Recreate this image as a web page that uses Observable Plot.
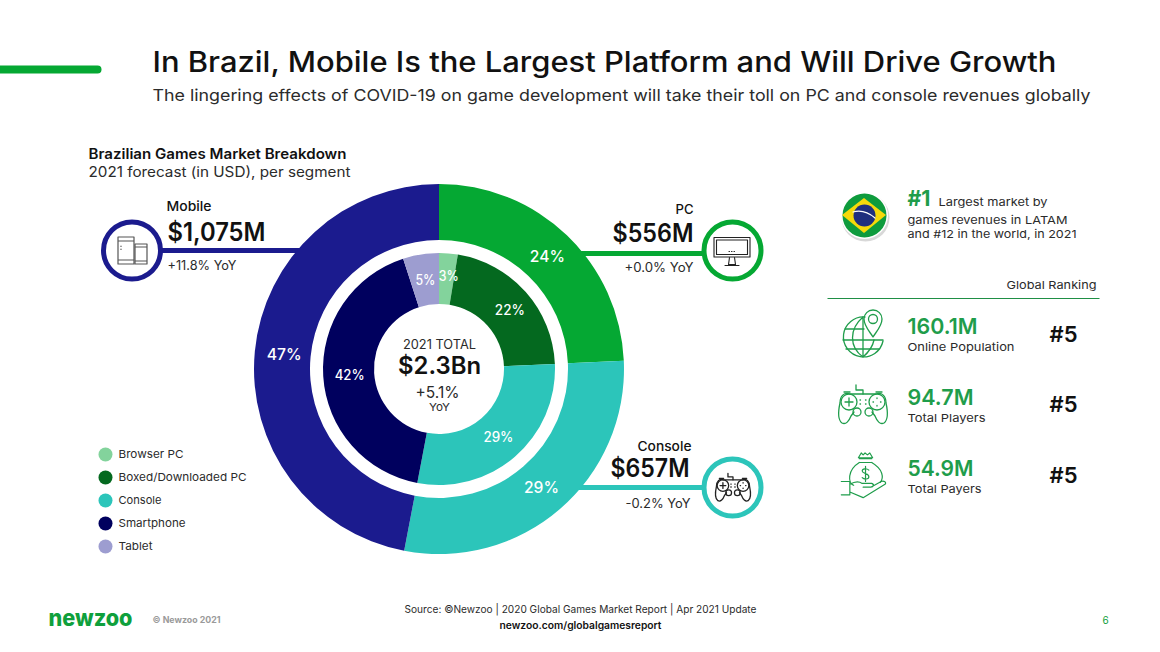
<!DOCTYPE html>
<html>
<head>
<meta charset="utf-8">
<script src="https://cdn.jsdelivr.net/npm/d3@7"></script>
<script src="https://cdn.jsdelivr.net/npm/@observablehq/plot@0.6"></script>
<style>
html,body{margin:0;padding:0;background:#fff}
svg{display:block}
</style>
</head>
<body>
<div id="chart"></div>
<script>
// ---------- data ----------
const outerSegments = ["PC", "Console", "Mobile"];
const outerRevenue = [556, 657, 1075];
const outerLabels = ["24%", "29%", "47%"];
const innerSegments = ["Browser PC", "Boxed/Downloaded PC", "Console", "Smartphone", "Tablet"];
const innerShares = [2.6, 21.7, 28.7, 42, 5];
const innerLabels = ["3%", "22%", "29%", "42%", "5%"];
const segmentDomain = ["PC", "Mobile", "Browser PC", "Boxed/Downloaded PC", "Console", "Smartphone", "Tablet"];
const segmentColors = ["#05a833", "#1b1b8e", "#83d39c", "#04691f", "#2cc5ba", "#00005e", "#9d9dd0"];
const rankingValues = ["160.1M", "94.7M", "54.9M"];
const rankingNames = ["Online Population", "Total Players", "Total Payers"];
const rankingRanks = ["#5", "#5", "#5"];
const calloutTitles = ["Mobile", "PC", "Console"];
const calloutValues = ["$1,075M", "$556M", "$657M"];
const calloutGrowth = ["+11.8% YoY", "+0.0% YoY", "-0.2% YoY"];

// ---------- layout ----------
const W = 1160, H = 652;
const FONT = "Inter, 'Open Sans', sans-serif";
const cx = 439, cy = 369;
const ringRadii = {inner: [65, 116], outer: [129, 185]};
const labelRadius = {inner: 90, outer: 156};
const labelWidth = {inner: 30, outer: 35};
const labelNudge = {"inner3%": [2, -3], "inner22%": [3, 1]};
const GREEN = "#1f9d4b", INK = "#111", BODY = "#2b2b2b";

const total = d3.sum(outerRevenue);
const rows = [
  ...outerSegments.map((segment, i) => ({ring: "outer", segment, share: outerRevenue[i] / total * 100, label: outerLabels[i]})),
  ...innerSegments.map((segment, i) => ({ring: "inner", segment, share: innerShares[i], label: innerLabels[i]}))
];

// running totals per ring give the label's mid angle
const running = {inner: 0, outer: 0};
const sliceLabels = rows.map(d => {
  const mid = running[d.ring] + d.share / 2;
  running[d.ring] += d.share;
  const a = mid / 100 * 2 * Math.PI;
  const r = labelRadius[d.ring];
  const [dx, dy] = labelNudge[d.ring + d.label] || [0, 0];
  return {
    label: d.label,
    x: cx + r * Math.sin(a) + dx,
    y: cy - r * Math.cos(a) + dy,
    w: d.label.length > 2 ? labelWidth[d.ring] : 20,
    size: d.ring === "outer" ? 15.5 : 14
  };
});

function donut() {
  return Plot.plot({
    width: W, height: H, margin: 0,
    style: {background: "transparent", overflow: "visible"},
    x: {domain: [0, 100], range: [0, 2 * Math.PI], axis: null},
    y: {domain: ["inner", "outer"], axis: null},
    color: {domain: segmentDomain, range: segmentColors},
    marks: [
      Plot.barX(rows, Plot.stackX({
        x: "share", y: "ring", fill: "segment",
        render(index, scales, values) {
          const g = d3.create("svg:g").attr("transform", `translate(${cx},${cy})`);
          const arc = d3.arc();
          for (const i of index) {
            const [innerRadius, outerRadius] = ringRadii[rows[i].ring];
            g.append("path")
              .attr("d", arc({innerRadius, outerRadius, startAngle: values.x1[i], endAngle: values.x2[i]}))
              .attr("fill", values.fill[i]);
          }
          return g.node();
        }
      }))
    ]
  });
}

// text helper: w fits the run to the width it has in the reference
function txt(str, x, y, size, weight, fill, anchor, w) {
  return Plot.text([str], {
    x: () => x, y: () => y, text: d => d,
    fontSize: size, fontWeight: weight, fill, textAnchor: anchor || "start",
    fontFamily: FONT,
    render(i, s, v, d, c, next) {
      const g = next(i, s, v, d, c);
      if (w) d3.select(g).selectAll("text").attr("textLength", w).attr("lengthAdjust", "spacingAndGlyphs");
      return g;
    }
  });
}

function seg(x1, y1, x2, y2, stroke, strokeWidth, cap) {
  return Plot.link([0], {x1: () => x1, y1: () => y1, x2: () => x2, y2: () => y2, stroke, strokeWidth, strokeLinecap: cap || "butt"});
}
function disc(x, y, r, fill, stroke, strokeWidth) {
  return Plot.dot([0], {x: () => x, y: () => y, r, fill, stroke: stroke || "none", strokeWidth: strokeWidth || 0});
}
function icon(x, y, stroke, sw, s, paths) {
  return () => {
    const g = d3.create("svg:g").attr("transform", `translate(${x},${y}) scale(${s})`)
      .attr("fill", "none").attr("stroke", stroke).attr("stroke-width", sw / s)
      .attr("stroke-linejoin", "round").attr("stroke-linecap", "round");
    paths.forEach(p => g.append("path").attr("d", p));
    return g.node();
  };
}

const padPaths = [
  "M-13-10H13C19-12 23-8 23-1C25 8 25 16 21 19C17 21 14 17 12 12L9 8M-9 8L-12 12C-14 17-17 21-21 19C-25 16-25 8-23-1C-23-8-19-12-13-10",
  "M-6-2a8 8 0 1 1-16 0a8 8 0 1 1 16 0M22-2a8 8 0 1 1-16 0a8 8 0 1 1 16 0",
  "M-2 8a4 4 0 1 1-8 0a4 4 0 1 1 8 0M10 8a4 4 0 1 1-8 0a4 4 0 1 1 8 0",
  "M-14-6V2M-18-2H-10",
  "M14-6v.5M14 1.5v.5M10-2h.5M17.5-2h.5",
  "M0-10V-14H-7V-19",
  "M-3-4h.5M2.5-4h.5M-3 0h.5M2.5 0h.5",
  "M-19-12h6M13-12h6"
];
const globePaths = [
  "M2-20A20 20 0 1 0 20 4",
  "M-18-8H1M-20 3H20M-17 12H16",
  "M0-20C-14-8-14 10 0 20C7 14 10 8 11 3M0-20V20",
  "M1-18a9 9 0 1 1 18 0C19-11 13-5 10 0C7-5 1-11 1-18Z",
  "M5.500-18a4.500 4.500 0 1 1 9 0a4.500 4.500 0 1 1-9 0"
];
const bagPaths = [
  "M-5-20L-8-15H7L4-20L1.500-18L-1-20L-3-18Z",
  "M-7-14H6M-7-10H6",
  "M-7-10C-20-2-19 12-13 14M6-10C18-3 19 6 15 11",
  "M3-2C1-4-4-4-4-1C-4 2 3 1 3 5C3 8-2 8-4 6M-.5-6V10",
  "M-26 10H-17V24H-26M-17 13C-12 10-7 10-4 12H6C9 13 8 16 5 16H-3M-17 21L-3 27L20 13C22 11 19 9 16 10L5 16"
];
const phonePaths = [
  "M118 237h16v27h-16zM118 241h16M118 260h16",
  "M135 244h12v20h-12zM135 247h12M135 261h12",
  "M121 246v.5M121 249v.5"
];
const monitorPaths = [
  "M714 237.500h36v19.500h-36z",
  "M716.500 240h31v14.500h-31z",
  "M729.500 257.500l-1 7h7l-1-7M725 265.500h14",
  "M729 251.500h.5M731.500 251.500h.5M734 251.500h.5"
];

document.getElementById("chart").append(Plot.plot({
  width: W, height: H, margin: 0,
  style: {background: "#fff", fontFamily: FONT},
  x: {domain: [0, W], range: [0, W], axis: null},
  y: {domain: [0, H], range: [0, H], axis: null},
  marks: [
    // header
    seg(-6, 69, 97, 69, "#05a833", 8, "round"),
    txt("In Brazil, Mobile Is the Largest Platform and Will Drive Growth", 152, 63, 28, 500, INK, "start", 904),
    txt("The lingering effects of COVID-19 on game development will take their toll on PC and console revenues globally", 152, 95, 16.5, 400, BODY, "start", 938),
    txt("Brazilian Games Market Breakdown", 88, 154, 14, 600, INK, "start", 258),
    txt("2021 forecast (in USD), per segment", 88, 172, 14, 400, BODY, "start", 262),

    // connectors run behind the rings
    seg(150, 250, 320, 250, "#1b1b8e", 5),
    seg(560, 253, 710, 253, "#05a833", 5),
    seg(560, 487, 710, 487, "#2cc5ba", 5),

    // the donut
    donut,
    ...sliceLabels.map(d => txt(d.label, d.x, d.y, d.size, 500, "#fff", "middle", d.w)),

    // centre
    txt("2021 TOTAL", 439, 344, 12.5, 400, BODY, "middle", 73),
    txt("$2.3Bn", 439, 366, 24, 600, INK, "middle", 83),
    txt("+5.1%", 437, 392, 16, 400, BODY, "middle", 44),
    txt("YoY", 439, 407, 11, 400, BODY, "middle", 21),

    // callouts
    disc(131.5, 250, 28.5, "#fff", "#1b1b8e", 5),
    disc(732, 250, 28.5, "#fff", "#05a833", 5),
    disc(732, 487, 28.5, "#fff", "#2cc5ba", 5),
    icon(0, 0, "#555", 1.2, 1, phonePaths),
    icon(0, 0, "#222", 1.1, 1, monitorPaths),
    icon(733, 487, "#222", 1.3, 0.72, padPaths),

    txt(calloutTitles[0], 166, 206, 13, 500, INK, "start", 45),
    txt(calloutValues[0], 167, 232, 25, 600, INK, "start", 98),
    txt(calloutGrowth[0], 167, 265, 12.5, 400, BODY, "start", 69),
    txt(calloutTitles[1], 693, 209, 13, 500, INK, "end", 18),
    txt(calloutValues[1], 693, 233, 25, 600, INK, "end", 81),
    txt(calloutGrowth[1], 693, 267, 12.5, 400, BODY, "end", 69),
    txt(calloutTitles[2], 691, 446, 13, 500, INK, "end", 54),
    txt(calloutValues[2], 689, 468, 25, 600, INK, "end", 79),
    txt(calloutGrowth[2], 690, 503, 12.5, 400, BODY, "end", 65),

    // legend
    ...innerSegments.map((name, i) => disc(105, 454 + i * 23, 7, segmentColors[segmentDomain.indexOf(name)])),
    ...innerSegments.map((name, i) => txt(name, 118, 454 + i * 23, 11, 400, BODY, "start", [65, 128, 43, 67, 34][i])),

    // flag
    disc(865, 217, 24, "#d8d8d8"),
    disc(864, 215, 23.5, "#fff"),
    disc(864, 215, 22, "#0e9b3d"),
    () => d3.create("svg:path").attr("d", "M842 215L864 198L886 215L864 233Z").attr("fill", "#f5d90a").node(),
    disc(864, 215, 11, "#1f2f7e"),
    icon(0, 0, "#fff", 1.2, 1, ["M853 212C860 210 868 212 875 218"]),

    // market rank
    txt("#1", 907, 198, 22, 700, GREEN, "start", 23),
    txt("Largest market by", 938, 202, 11, 400, BODY, "start", 109),
    txt("games revenues in LATAM", 907, 220, 11, 400, BODY, "start", 160),
    txt("and #12 in the world, in 2021", 907, 234, 11, 400, BODY, "start", 169),
    txt("Global Ranking", 1096, 285, 11, 400, BODY, "end", 90),
    seg(827, 298, 1099, 298, "#1f8f45", 1),

    // rankings
    ...rankingValues.map((v, i) => txt(v, 907, 326 + i * 71, 22, 600, GREEN, "start", [70, 66, 66][i])),
    ...rankingNames.map((v, i) => txt(v, 907, 347 + i * 71, 11, 400, BODY, "start", [107, 78, 74][i])),
    ...rankingRanks.map((v, i) => txt(v, 1049, 334 + i * 70.5, 22, 600, INK, "start", 28)),
    icon(863, 337, GREEN, 1.3, 1, globePaths),
    icon(863, 404, GREEN, 1.3, 1, padPaths),
    icon(866, 472, GREEN, 1.2, 0.95, bagPaths),

    // footer
    txt("newzoo", 48, 618, 23, 800, "#0fa03c", "start", 84),
    txt("© Newzoo 2021", 152, 620, 9, 700, "#9a9a9a", "start", 68),
    txt("Source: ©Newzoo | 2020 Global Games Market Report | Apr 2021 Update", 580, 609, 10.5, 400, BODY, "middle", 352),
    txt("newzoo.com/globalgamesreport", 580, 625, 10, 600, INK, "middle", 162),
    txt("6", 1105, 620, 10, 400, "#0fa03c", "middle")
  ]
}));
</script>
</body>
</html>
